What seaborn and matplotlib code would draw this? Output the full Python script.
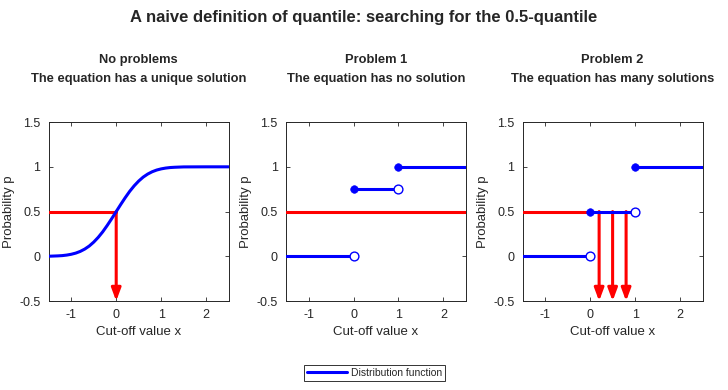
import matplotlib
matplotlib.use("Agg")
import matplotlib.pyplot as plt
import seaborn as sns
import pandas as pd

# smooth CDF
cdf_x = [-1.5, -1.4, -1.3, -1.2, -1.1, -1.0, -0.9, -0.8, -0.7, -0.6, -0.5, -0.4, -0.3, -0.2, -0.1,
         0.0, 0.1, 0.2, 0.3, 0.4, 0.5, 0.6, 0.7, 0.8, 0.9, 1.0, 1.1, 1.2, 1.3, 1.4, 1.5, 2.0, 2.5]
cdf_p = [0.001, 0.003, 0.005, 0.008, 0.014, 0.023, 0.036, 0.055, 0.081, 0.115, 0.159, 0.212, 0.274, 0.345, 0.421,
         0.5, 0.579, 0.655, 0.726, 0.788, 0.841, 0.885, 0.919, 0.945, 0.964, 0.977, 0.986, 0.992, 0.995, 0.997, 0.999, 1.0, 1.0]

# step functions: segments (x start, x end, level)
seg_start = [-1.5, 0, 1]
seg_end = [0, 1, 2.5]
levels_p1 = [0, 0.75, 1]
levels_p2 = [0, 0.5, 1]

target = 0.5
quantiles_p0 = [0.0]
quantiles_p2 = [0.2, 0.5, 0.8]

titles = ["No problems\nThe equation has a unique solution",
          "Problem 1\nThe equation has no solution",
          "Problem 2\nThe equation has many solutions"]

sns.set_style("ticks")
plt.rcParams["font.family"] = ["Liberation Sans", "DejaVu Sans"]
blue = "#0000ff"
red = "#ff0000"
grey = "#262626"

fig = plt.figure(figsize=(7.28, 3.9), dpi=100)
lefts = [0.067, 0.393, 0.718]
axes = [fig.add_axes([l, 0.228, 0.247, 0.459]) for l in lefts]


def arrow_down(ax, x):
    ax.annotate("", xy=(x, -0.5), xytext=(x, target),
                arrowprops=dict(arrowstyle="-|>,head_width=0.28,head_length=0.75",
                                color=red, lw=2.2, shrinkA=0, shrinkB=0), zorder=3)


def steps(ax, levels):
    for a, b, lv in zip(seg_start, seg_end, levels):
        d = pd.DataFrame({"x": [a, b], "p": [lv, lv]})
        sns.lineplot(data=d, x="x", y="p", ax=ax, color=blue, lw=2.2, zorder=4)
    # filled at left end, open at right end
    filled = pd.DataFrame({"x": seg_start[1:], "p": levels[1:]})
    empty = pd.DataFrame({"x": seg_end[:-1], "p": levels[:-1]})
    sns.scatterplot(data=filled, x="x", y="p", ax=ax, color=blue, s=30, edgecolor=blue, zorder=5)
    sns.scatterplot(data=empty, x="x", y="p", ax=ax, facecolor="white", s=40, edgecolor=blue, linewidth=1.0, zorder=5)


# panel 1
ax = axes[0]
sns.lineplot(x=[-1.5, quantiles_p0[0]], y=[target, target], ax=ax, color=red, lw=2.2, zorder=3)
for q in quantiles_p0:
    arrow_down(ax, q)
sns.lineplot(x=cdf_x, y=cdf_p, ax=ax, color=blue, lw=2.2, zorder=4, label="Distribution function", legend=False)

# panel 2
ax = axes[1]
sns.lineplot(x=[-1.5, 2.5], y=[target, target], ax=ax, color=red, lw=2.2, zorder=3)
steps(ax, levels_p1)

# panel 3
ax = axes[2]
sns.lineplot(x=[-1.5, 0], y=[target, target], ax=ax, color=red, lw=2.2, zorder=3)
for q in quantiles_p2:
    arrow_down(ax, q)
steps(ax, levels_p2)

for ax, t in zip(axes, titles):
    ax.set_xlim(-1.5, 2.5)
    ax.set_ylim(-0.5, 1.5)
    ax.set_xticks([-1, 0, 1, 2])
    ax.set_yticks([-0.5, 0, 0.5, 1, 1.5])
    ax.set_yticklabels(["-0.5", "0", "0.5", "1", "1.5"])
    ax.set_xticklabels(["-1", "0", "1", "2"])
    ax.tick_params(direction="in", length=3, width=0.6, top=True, right=True,
                   labelsize=9, colors=grey, labelcolor=grey, pad=6)
    for s in ax.spines.values():
        s.set_color(grey)
        s.set_linewidth(0.7)
    ax.set_xlabel("Cut-off value x", fontsize=9.5, color=grey, labelpad=3)
    ax.set_ylabel("Probability p", fontsize=9.5, color=grey, labelpad=3)
    ax.set_title(t, fontsize=9.3, fontweight="bold", pad=29, linespacing=1.75)

fig.suptitle("A naive definition of quantile: searching for the 0.5-quantile",
             fontsize=12, fontweight="bold", y=0.975)

h, l = axes[0].get_legend_handles_labels()
leg = fig.legend(h, l, loc="center", bbox_to_anchor=(0.515, 0.044), fontsize=7.5,
                 frameon=True, fancybox=False, edgecolor="black", handlelength=3.8,
                 borderpad=0.3, handletextpad=0.4)
leg.get_frame().set_linewidth(0.7)

fig.savefig("out.png", dpi=100)
